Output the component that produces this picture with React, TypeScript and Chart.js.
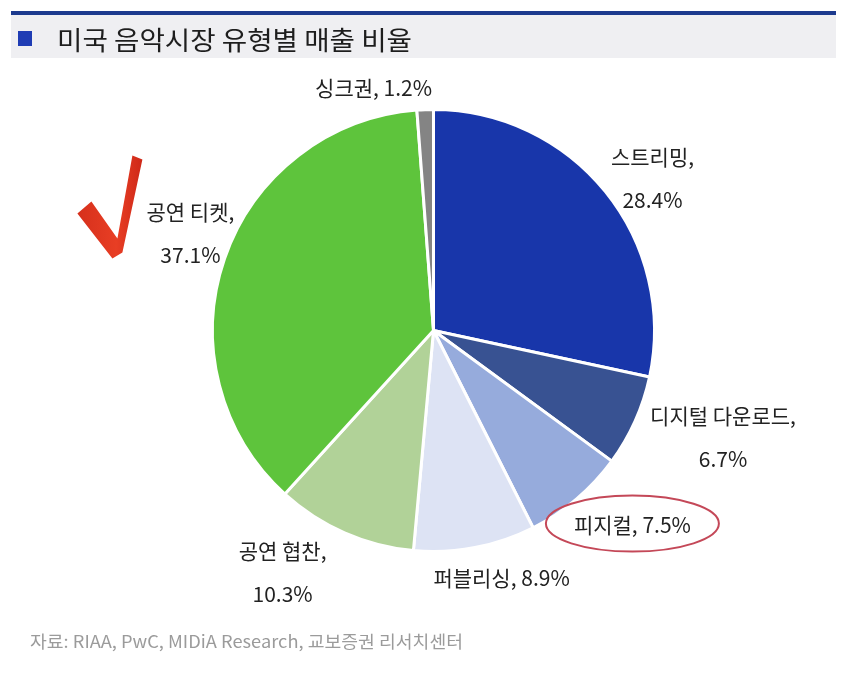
import React, { useEffect, useRef } from "react";
import { Chart, registerables } from "chart.js";

Chart.register(...registerables);

// ---- data ----
const categories = ["스트리밍", "디지털 다운로드", "피지컬", "퍼블리싱", "공연 협찬", "공연 티켓", "싱크권"];
const shares = [28.4, 6.7, 7.5, 8.9, 10.3, 37.1, 1.2];
const titleText = "미국 음악시장 유형별 매출 비율";
const sourceText = "자료: RIAA, PwC, MIDiA Research, 교보증권 리서치센터";

// ---- styles / layout (kept apart from the data) ----
const sliceColors = [
  "rgb(24,54,170)",
  "rgb(56,82,146)",
  "rgb(150,171,220)",
  "rgb(221,227,244)",
  "rgb(177,210,152)",
  "rgb(94,196,60)",
  "rgb(132,132,132)",
];
// label centre, in units of the pie radius, relative to the pie centre; two-line or one-line
const labelOffsets: [number, number][] = [
  [0.991, -0.69],
  [1.31, 0.48],
  [0.9, 0.878],
  [0.308, 1.122],
  [-0.683, 1.095],
  [-1.1, -0.439],
  [-0.271, -1.095],
];
const labelTwoLine = [true, true, false, false, true, true, false];
const FONT = "'Noto Sans CJK KR', 'Noto Sans', sans-serif";

function fmt(v: number) {
  return v.toFixed(1) + "%";
}

const decorPlugin = {
  id: "decor",
  beforeDraw(chart: any) {
    const ctx: CanvasRenderingContext2D = chart.ctx;
    const W = chart.width;
    ctx.save();
    ctx.fillStyle = "#ffffff";
    ctx.fillRect(0, 0, W, chart.height);
    // title band
    ctx.fillStyle = "#efeff2";
    ctx.fillRect(11, 14, 825, 44);
    ctx.fillStyle = "#1c3a8e";
    ctx.fillRect(11, 11, 825, 4);
    ctx.fillStyle = "#1f3cb4";
    ctx.fillRect(18, 31, 14, 15);
    ctx.fillStyle = "#1e1e1e";
    ctx.font = `26px ${FONT}`;
    ctx.textBaseline = "middle";
    ctx.textAlign = "left";
    const tw = ctx.measureText(titleText).width;
    const target = 355;
    ctx.translate(57, 40);
    ctx.scale(target / tw, 1);
    ctx.fillText(titleText, 0, 0);
    ctx.restore();

    // source
    ctx.save();
    ctx.fillStyle = "#9b9b9b";
    ctx.font = `17px ${FONT}`;
    ctx.textBaseline = "middle";
    ctx.textAlign = "left";
    const sw = ctx.measureText(sourceText).width;
    ctx.translate(30, 642);
    ctx.scale(433 / sw, 1);
    ctx.fillText(sourceText, 0, 0);
    ctx.restore();
  },
  afterDraw(chart: any) {
    const ctx: CanvasRenderingContext2D = chart.ctx;
    const meta = chart.getDatasetMeta(0);
    const arc0 = meta.data[0];
    const cx = arc0.x;
    const cy = arc0.y;
    const r = arc0.outerRadius;
    ctx.save();
    ctx.font = `21px ${FONT}`;
    ctx.fillStyle = "#222222";
    ctx.textAlign = "center";
    ctx.textBaseline = "middle";
    const centers: [number, number][] = [];
    categories.forEach((name, i) => {
      const x = cx + labelOffsets[i][0] * r;
      const y = cy + labelOffsets[i][1] * r;
      centers.push([x, y]);
      const val = fmt(shares[i]);
      if (labelTwoLine[i]) {
        ctx.fillText(name + ",", x, y - 21);
        ctx.fillText(val, x, y + 22);
      } else {
        ctx.fillText(name + ", " + val, x, y);
      }
    });
    // red ellipse around the physical label
    const pi = 2;
    const pw = ctx.measureText(categories[pi] + ", " + fmt(shares[pi])).width;
    ctx.beginPath();
    ctx.ellipse(centers[pi][0], centers[pi][1] - 1, pw / 2 + 28, 28, 0, 0, Math.PI * 2);
    ctx.strokeStyle = "rgb(196,72,88)";
    ctx.lineWidth = 2;
    ctx.stroke();

    // red check mark next to the ticket label
    const [tx, ty] = centers[5];
    const pts: [number, number][] = [
      [-113, -20],
      [-99, -32],
      [-73, 5],
      [-58, -78],
      [-48, -74],
      [-68, 19],
      [-78, 25],
    ];
    const grad = ctx.createLinearGradient(tx - 113, ty, tx - 48, ty);
    grad.addColorStop(0, "rgb(214,48,28)");
    grad.addColorStop(0.6, "rgb(232,62,36)");
    grad.addColorStop(1, "rgb(206,40,24)");
    ctx.beginPath();
    pts.forEach(([dx, dy], k) => {
      if (k === 0) ctx.moveTo(tx + dx, ty + dy);
      else ctx.lineTo(tx + dx, ty + dy);
    });
    ctx.closePath();
    ctx.fillStyle = grad;
    ctx.fill();
    ctx.restore();
  },
};

export default function App() {
  const ref = useRef<HTMLCanvasElement | null>(null);
  useEffect(() => {
    document.body.style.margin = "0";
    const canvas = ref.current;
    if (!canvas) return;
    const chart = new Chart(canvas, {
      type: "pie",
      data: {
        labels: categories,
        datasets: [
          {
            data: shares,
            backgroundColor: sliceColors,
            borderColor: "#ffffff",
            borderWidth: 3,
          },
        ],
      },
      options: {
        responsive: false,
        animation: false,
        layout: { padding: { left: 211, right: 194, top: 108, bottom: 131 } },
        plugins: {
          legend: { display: false },
          tooltip: { enabled: false },
        },
      },
      plugins: [decorPlugin],
    } as any);
    return () => chart.destroy();
  }, []);
  return (
    <div style={{ width: 850, height: 684, background: "#fff" }}>
      <canvas ref={ref} width={850} height={684} style={{ display: "block" }} />
    </div>
  );
}
